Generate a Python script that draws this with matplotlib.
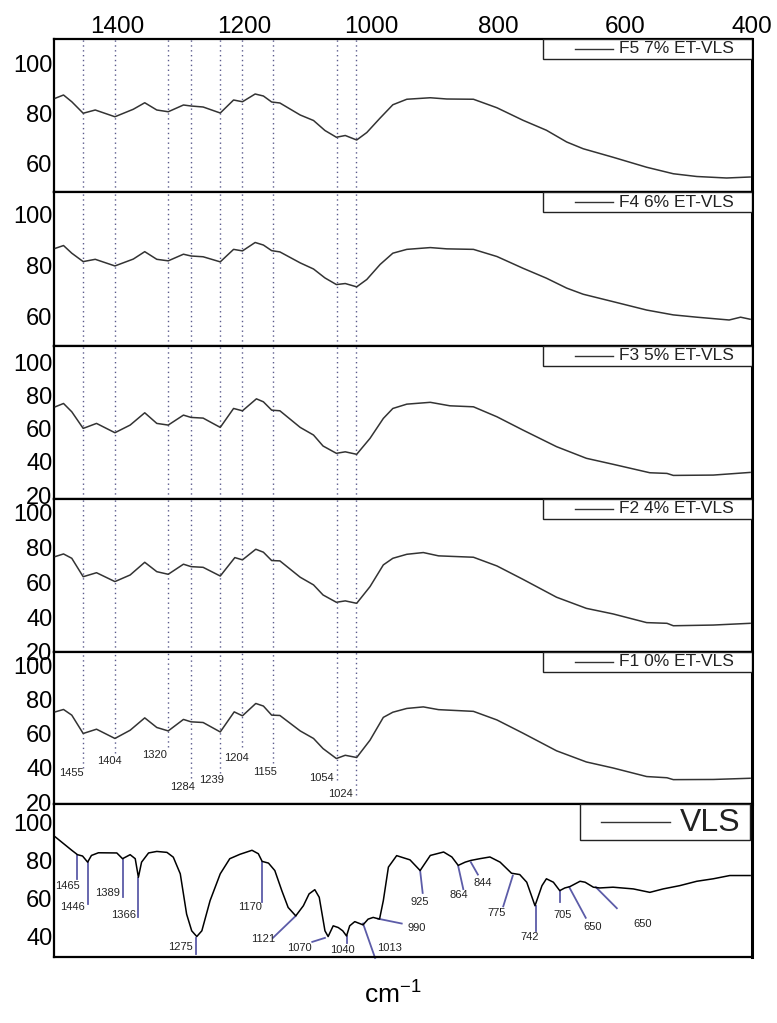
import matplotlib
matplotlib.use("Agg")
import matplotlib.pyplot as plt
from matplotlib.patches import Rectangle

plt.rcParams['font.family'] = ['Liberation Sans', 'DejaVu Sans']
plt.rcParams['mathtext.default'] = 'regular'

# ---- spectra (wavenumber cm-1, transmittance %) ----
wn_f5 = [1498, 1485, 1472, 1454, 1435, 1404, 1375, 1357, 1338, 1320, 1296, 1284, 1265, 1238, 1217,
         1203, 1183, 1170, 1157, 1144, 1112, 1091, 1073, 1055, 1041, 1023, 1007, 986, 966, 944,
         907, 881, 839, 802, 761, 724, 692, 666, 619, 566, 524, 487, 440, 403]
t_f5 = [85.9, 87.2, 84.5, 79.9, 81.2, 78.5, 81.5, 84.1, 81.2, 80.5, 83.2, 82.8, 82.4, 80.0, 85.2,
        84.5, 87.6, 86.8, 84.4, 84.0, 79.2, 77.0, 73.0, 70.3, 71.0, 69.2, 72.2, 78.0, 83.3, 85.5,
        86.1, 85.6, 85.5, 82.1, 77.1, 73.1, 68.4, 65.7, 62.3, 58.3, 55.7, 54.6, 54.0, 54.4]

wn_f4 = [1498, 1485, 1472, 1454, 1435, 1404, 1375, 1357, 1338, 1320, 1296, 1284, 1265, 1238, 1217,
         1203, 1183, 1170, 1157, 1144, 1112, 1091, 1073, 1055, 1041, 1023, 1007, 986, 966, 944,
         907, 881, 839, 802, 761, 724, 692, 666, 619, 566, 524, 487, 436, 418, 403]
t_f4 = [86.9, 88.0, 85.0, 81.7, 82.6, 80.0, 82.7, 85.6, 82.6, 82.0, 84.6, 83.9, 83.6, 81.6, 86.5,
        85.9, 89.2, 88.2, 86.0, 85.5, 81.2, 78.8, 75.3, 72.7, 73.1, 71.8, 74.7, 80.6, 85.0, 86.5,
        87.2, 86.7, 86.5, 83.7, 79.1, 75.2, 71.3, 68.9, 66.0, 62.7, 60.8, 59.9, 58.8, 59.9, 59.1]

wn_f3 = [1498, 1485, 1472, 1454, 1433, 1404, 1380, 1357, 1338, 1320, 1296, 1284, 1265, 1238, 1217,
         1203, 1181, 1170, 1157, 1144, 1112, 1091, 1076, 1055, 1041, 1023, 1002, 981, 966, 944,
         907, 876, 839, 802, 761, 708, 661, 619, 561, 534, 524, 461, 403]
t_f3 = [73.1, 75.1, 70.1, 60.1, 63.1, 57.5, 62.1, 69.5, 63.1, 62.1, 68.1, 66.7, 66.3, 60.7, 72.1,
        70.7, 77.9, 76.1, 71.1, 70.7, 60.7, 56.1, 49.5, 45.1, 46.0, 44.5, 54.1, 66.1, 72.1, 74.7,
        75.8, 73.7, 73.1, 67.1, 59.1, 49.1, 42.1, 38.5, 33.4, 33.0, 31.8, 32.0, 33.6]

wn_f2 = [1498, 1485, 1472, 1454, 1433, 1404, 1380, 1357, 1338, 1320, 1296, 1284, 1265, 1238, 1215,
         1203, 1182, 1170, 1157, 1144, 1112, 1091, 1076, 1055, 1041, 1023, 1002, 981, 966, 944,
         918, 894, 839, 802, 761, 708, 661, 619, 566, 534, 524, 461, 403]
t_f2 = [74.9, 76.4, 73.9, 63.3, 65.6, 60.5, 64.3, 71.6, 66.2, 64.7, 70.5, 69.1, 68.7, 63.7, 74.3,
        73.0, 79.1, 77.4, 72.6, 72.4, 63.0, 58.6, 52.8, 48.6, 49.4, 48.0, 57.6, 70.1, 73.9, 76.2,
        77.2, 75.3, 74.5, 69.5, 61.8, 51.5, 45.1, 41.9, 36.9, 36.5, 35.1, 35.5, 36.5]

wn_f1 = [1498, 1485, 1472, 1454, 1433, 1404, 1380, 1357, 1338, 1320, 1296, 1284, 1265, 1238, 1216,
         1203, 1182, 1170, 1157, 1144, 1112, 1091, 1076, 1055, 1041, 1023, 1002, 981, 966, 944,
         918, 894, 839, 802, 761, 708, 661, 619, 566, 534, 524, 461, 403]
t_f1 = [72.7, 74.1, 70.8, 60.1, 62.6, 57.2, 62.0, 69.2, 63.6, 61.6, 68.3, 66.9, 66.5, 61.0, 72.7,
        70.4, 77.6, 76.1, 70.8, 70.6, 61.6, 57.2, 51.3, 45.5, 47.4, 46.1, 56.2, 69.5, 72.5, 74.7,
        75.6, 74.0, 73.0, 68.0, 60.3, 50.0, 43.5, 40.0, 35.0, 34.3, 33.2, 33.3, 34.0]

wn_vls = [1498, 1485, 1472, 1463, 1455, 1447, 1441, 1430, 1401, 1392, 1380, 1372, 1367, 1362, 1351,
          1338, 1322, 1312, 1301, 1291, 1283, 1275, 1267, 1254, 1238, 1223, 1207, 1188, 1178, 1172,
          1162, 1152, 1141, 1131, 1119, 1107, 1098, 1089, 1082, 1073, 1068, 1060, 1052, 1045, 1039,
          1034, 1026, 1013, 1005, 997, 987, 981, 973, 960, 939, 923, 907, 886, 873, 863,
          852, 843, 829, 813, 797, 779, 766, 755, 742, 731, 724, 713, 703, 695, 687,
          671, 663, 650, 640, 619, 587, 561, 540, 514, 487, 461, 435, 403]
t_vls = [92.3, 88.8, 85.3, 83.0, 82.3, 79.1, 82.6, 84.0, 83.9, 80.9, 83.0, 80.9, 71.2, 79.1, 83.9,
         84.7, 84.2, 81.7, 73.0, 51.9, 43.2, 40.2, 43.2, 59.0, 73.0, 80.9, 83.2, 85.3, 83.5, 79.5,
         78.6, 74.7, 64.2, 55.4, 51.0, 56.3, 62.5, 64.7, 60.7, 43.2, 40.2, 45.8, 44.9, 43.2, 40.5,
         45.8, 48.0, 46.3, 49.3, 50.2, 49.3, 59.0, 76.5, 82.5, 80.3, 74.7, 82.6, 84.4, 81.8, 77.4,
         79.1, 80.0, 80.9, 81.8, 79.1, 73.3, 72.6, 68.6, 56.3, 66.8, 70.4, 68.6, 64.2, 65.6, 66.3,
         69.1, 68.6, 66.0, 65.6, 66.0, 65.1, 63.3, 65.1, 66.8, 69.1, 70.4, 72.1, 72.1]

labels = ['F5 7% ET-VLS', 'F4 6% ET-VLS', 'F3 5% ET-VLS', 'F2 4% ET-VLS', 'F1 0% ET-VLS', 'VLS']
spectra = [(wn_f5, t_f5), (wn_f4, t_f4), (wn_f3, t_f3), (wn_f2, t_f2), (wn_f1, t_f1), (wn_vls, t_vls)]
ylims = [(48.4, 109.6), (48.6, 109.0), (17.6, 109.7), (20.0, 108.0), (19.0, 107.6), (29.5, 109.5)]
yticks = [[60, 80, 100], [60, 80, 100], [20, 40, 60, 80, 100], [20, 40, 60, 80, 100],
          [20, 40, 60, 80, 100], [40, 60, 80, 100]]
xticks = [1400, 1200, 1000, 800, 600, 400]

# dotted marker lines (F panels) and their ends / labels in the F1 panel
band_f = [1455, 1404, 1320, 1284, 1239, 1204, 1155, 1054, 1024]
band_f_end = [40, 49, 52, 34, 37, 52, 43, 33, 24]
band_f_tx = [1473, 1413, 1342, 1297, 1251, 1212, 1167, 1079, 1049]
band_f_ty = [37, 44, 47.5, 29, 33, 46, 37.5, 34, 25]

# VLS band assignments: label, line start, line end, text position
vls_lab = ['1465', '1446', '1389', '1366', '1275', '1170', '1121', '1070', '1040', '1013',
           '990', '925', '864', '844', '775', '742', '705', '650', '650']
vls_x0 = [1464, 1446, 1391, 1367, 1276, 1172, 1119, 1073, 1038, 1013, 989, 923, 863, 843, 777, 740, 703, 688, 646]
vls_y0 = [82.6, 79, 81, 71, 39.5, 79, 51, 39.5, 40.5, 47, 49.5, 74.7, 77, 79, 72, 56, 64, 66, 66]
vls_x1 = [1464, 1446, 1391, 1367, 1276, 1172, 1155, 1093, 1038, 994, 952, 919, 855, 832, 792, 740, 703, 662, 613]
vls_y1 = [70.5, 57.4, 61, 50.5, 31, 58, 39.5, 37.4, 37, 29, 47, 63, 65, 72.6, 56, 43, 58, 50, 55]
vls_tx = [1478, 1471, 1415, 1390, 1301, 1191, 1171, 1114, 1045, 971, 929, 923, 862, 825, 802, 751, 699, 651, 572]
vls_ty = [66.8, 55.9, 63, 51.6, 34.7, 55.8, 39, 34.2, 33, 34, 44.7, 58, 62, 68, 52.6, 39.7, 51.6, 45, 47]

W, H = 777, 1023
tops = [39, 192, 346, 499, 652, 804]
bottoms = [192, 346, 499, 652, 804, 957]
dot_color = '#5a5a8c'
ann_color = '#5c5ca8'

fig = plt.figure(figsize=(W / 100, H / 100), dpi=100)
axes = []
for i in range(6):
    ax = fig.add_axes([54 / W, 1 - bottoms[i] / H, 698 / W, (bottoms[i] - tops[i]) / H])
    wn, t = spectra[i]
    ax.plot(wn, t, color='#000000' if i == 5 else '#333333', lw=1.1, zorder=3)
    ax.set_xlim(1500, 400)
    ax.set_ylim(*ylims[i])
    ax.set_yticks(yticks[i])
    ax.tick_params(axis='y', length=0, pad=1, labelsize=17)
    if i == 0:
        ax.xaxis.tick_top()
        ax.set_xticks(xticks)
        ax.tick_params(axis='x', length=0, pad=1, labelsize=17.5)
    else:
        ax.set_xticks([])
    for s in ax.spines.values():
        s.set_linewidth(1.6)
    ax.spines['right'].set_linewidth(2.2)

    # legend box drawn by hand to hug the top right corner
    if i < 5:
        ax.add_patch(Rectangle((0.70, 0.87), 0.30, 0.13, transform=ax.transAxes,
                               facecolor='white', edgecolor='#222222', lw=1.0, zorder=5))
        ax.plot([0.747, 0.801], [0.935, 0.935], transform=ax.transAxes, color='#333333', lw=1.0, zorder=6)
        ax.text(0.81, 0.935, labels[i], transform=ax.transAxes, fontsize=12.5,
                va='center', ha='left', color='#222222', zorder=6)
    else:
        ax.add_patch(Rectangle((0.754, 0.765), 0.243, 0.235, transform=ax.transAxes,
                               facecolor='white', edgecolor='#222222', lw=1.0, zorder=5))
        ax.plot([0.783, 0.883], [0.882, 0.882], transform=ax.transAxes, color='#333333', lw=1.0, zorder=6)
        ax.text(0.897, 0.875, labels[i], transform=ax.transAxes, fontsize=23,
                va='center', ha='left', color='#222222', zorder=6)
    axes.append(ax)

# dotted band lines through the ET-VLS panels
for i in range(4):
    for x in band_f:
        axes[i].axvline(x, color=dot_color, lw=1.0, ls=(0, (1, 2.5)), zorder=2)
ax1 = axes[4]
for x, y_end, tx, ty in zip(band_f, band_f_end, band_f_tx, band_f_ty):
    ax1.vlines(x, y_end, ylims[4][1], color=dot_color, lw=1.0, ls=(0, (1, 2.5)), zorder=2)
    ax1.text(tx, ty, str(x), fontsize=8, ha='center', va='center', color='#222222')

# VLS assignment lines and labels
axv = axes[5]
for lab, x0, y0, x1, y1, tx, ty in zip(vls_lab, vls_x0, vls_y0, vls_x1, vls_y1, vls_tx, vls_ty):
    axv.plot([x0, x1], [y0, y1], color=ann_color, lw=1.3, zorder=2, clip_on=False)
    axv.text(tx, ty, lab, fontsize=8, ha='center', va='center', color='#222222')

fig.text(0.505, 0.019, r'cm$^{-1}$', fontsize=19, ha='center', va='baseline')

fig.savefig('out.png', dpi=100)
